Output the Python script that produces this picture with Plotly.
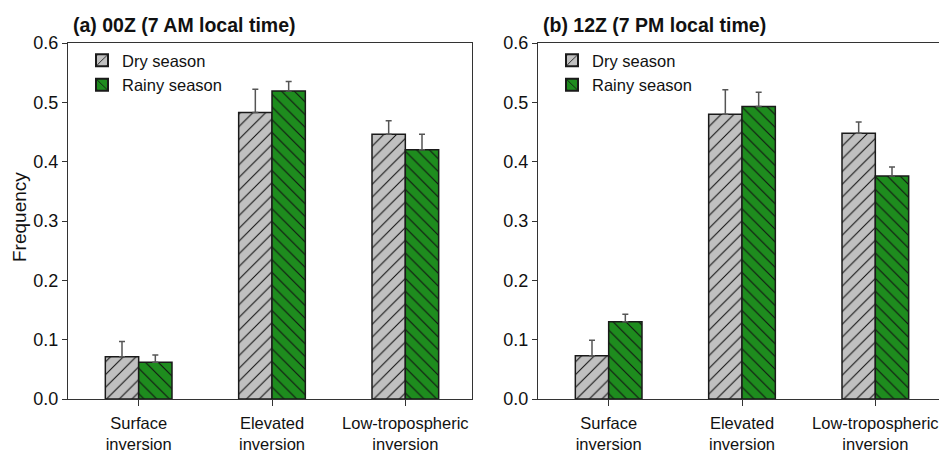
import plotly.graph_objects as go

categories = ["Surface<br>inversion", "Elevated<br>inversion", "Low-tropospheric<br>inversion"]
series_names = ["Dry season", "Rainy season"]

# Panel (a) 00Z
a_dry = [0.071, 0.483, 0.446]
a_dry_err = [0.026, 0.039, 0.023]
a_rainy = [0.062, 0.519, 0.420]
a_rainy_err = [0.012, 0.016, 0.026]

# Panel (b) 12Z
b_dry = [0.073, 0.480, 0.448]
b_dry_err = [0.026, 0.041, 0.019]
b_rainy = [0.130, 0.493, 0.376]
b_rainy_err = [0.013, 0.024, 0.015]

panel_titles = ["(a) 00Z (7 AM local time)", "(b) 12Z (7 PM local time)"]
y_ticks = [0.0, 0.1, 0.2, 0.3, 0.4, 0.5, 0.6]

FONT = "Liberation Sans, Arial, sans-serif"
W, H = 947, 454
OFF = 8  # page body margin offset
GRAY = "#c0c0c0"
GREEN = "#1e8c1e"


def px(x):
    return (x - OFF) / W


def py(y):
    return 1 - (y - OFF) / H


fig = go.Figure()


def add_pair(dry, dry_err, rainy, rainy_err, xa, ya, leg):
    for name, vals, errs, col, shape in [
        (series_names[0], dry, dry_err, GRAY, "/"),
        (series_names[1], rainy, rainy_err, GREEN, "\\"),
    ]:
        fig.add_trace(go.Bar(
            x=list(range(len(categories))), y=vals, name=name,
            xaxis=xa, yaxis=ya, legend=leg,
            marker=dict(color=col, line=dict(color="#1a1a1a", width=1.5),
                        pattern=dict(shape=shape, fgcolor="#111111", bgcolor=col,
                                     size=9, solidity=0.12)),
            error_y=dict(type="data", symmetric=False, array=errs,
                         arrayminus=[0] * len(errs), color="#555555",
                         thickness=1.5, width=3),
        ))


add_pair(a_dry, a_dry_err, a_rainy, a_rainy_err, "x", "y", "legend")
add_pair(b_dry, b_dry_err, b_rainy, b_rainy_err, "x2", "y2", "legend2")

ydom = [py(399), py(43)]
xcommon = dict(
    range=[-0.53, 2.5], tickmode="array", tickvals=[0, 1, 2], ticktext=categories,
    showline=True, mirror=True, linecolor="#333333", linewidth=1, automargin=False,
    ticks="outside", ticklen=6, tickcolor="#333333", showgrid=False, zeroline=False,
    ticklabelstandoff=3,
    tickfont=dict(family=FONT, size=16.5, color="#111111"),
)
ycommon = dict(
    range=[0, 0.6], tickmode="array", tickvals=y_ticks,
    ticktext=[f"{v:.1f}" for v in y_ticks], domain=ydom, automargin=False,
    showline=True, mirror=True, linecolor="#333333", linewidth=1,
    ticks="outside", ticklen=5, tickcolor="#333333", showgrid=False, zeroline=False,
    tickfont=dict(family=FONT, size=18, color="#111111"),
)

legend_common = dict(xanchor="left", yanchor="top", bgcolor="rgba(0,0,0,0)",
                     font=dict(family=FONT, size=16.5, color="#111111"),
                     tracegroupgap=0, itemsizing="constant")

fig.update_layout(
    template="none",
    width=W, height=H,
    margin=dict(l=0, r=0, t=0, b=0, autoexpand=False),
    paper_bgcolor="white", plot_bgcolor="white",
    barmode="group", bargap=0.5, bargroupgap=0,
    xaxis=dict(domain=[px(68), px(472)], anchor="y", **xcommon),
    xaxis2=dict(domain=[px(538), px(942)], anchor="y2", **xcommon),
    yaxis=dict(anchor="x", **ycommon),
    yaxis2=dict(anchor="x2", **ycommon),
    legend=dict(x=px(82), y=py(43), **legend_common),
    legend2=dict(x=px(552), y=py(43), **legend_common),
    annotations=[
        dict(text=f"<b>{panel_titles[0]}</b>", x=px(71), y=py(25), xref="paper", yref="paper",
             xanchor="left", yanchor="middle", showarrow=False,
             font=dict(family=FONT, size=19.5, color="#111111")),
        dict(text=f"<b>{panel_titles[1]}</b>", x=px(541), y=py(25), xref="paper", yref="paper",
             xanchor="left", yanchor="middle", showarrow=False,
             font=dict(family=FONT, size=19.5, color="#111111")),
        dict(text="Frequency", x=px(19), y=py(217), xref="paper", yref="paper",
             xanchor="center", yanchor="middle", showarrow=False, textangle=-90,
             font=dict(family=FONT, size=19, color="#111111")),
    ],
)

fig.write_html("out.html")
